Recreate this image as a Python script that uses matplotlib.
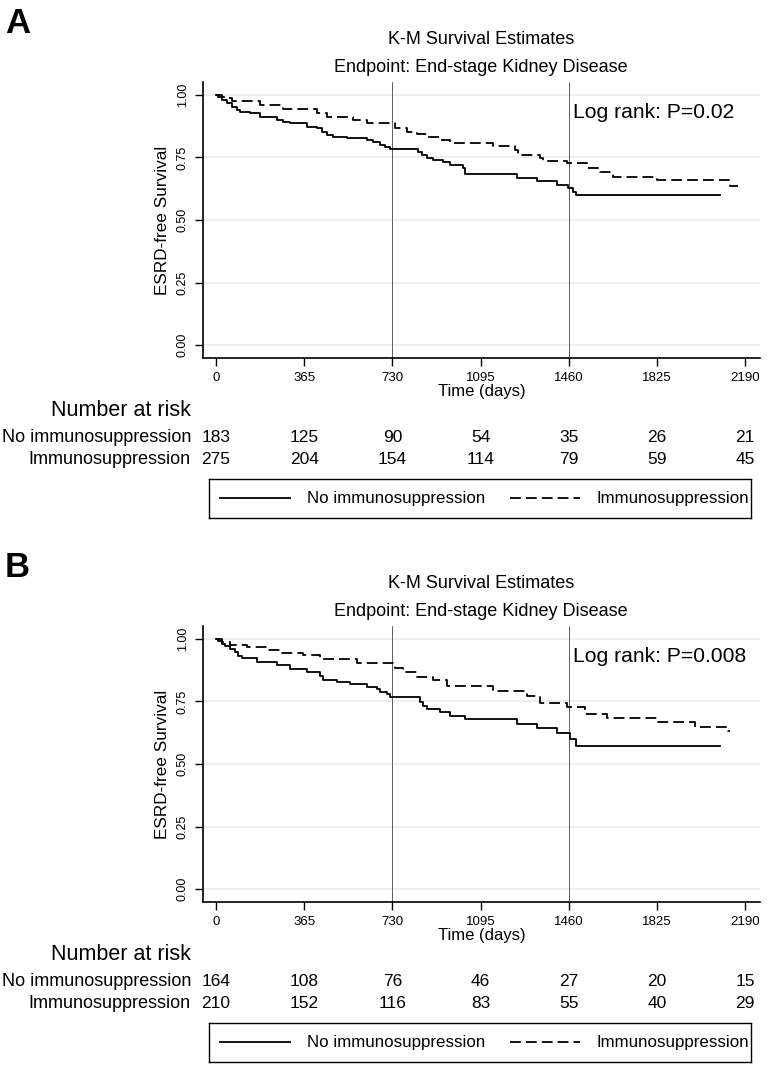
import matplotlib
matplotlib.use("Agg")
import matplotlib.pyplot as plt
import numpy as np

W, H = 780, 1091

# ---- data ----
ticks = [0, 365, 730, 1095, 1460, 1825, 2190]
groups = ["No immunosuppression", "Immunosuppression"]

# panel A, steps: (day, survival after step)
a_no_t = [0, 10, 23, 44, 65, 86, 99, 141, 182, 251, 279, 306, 375, 417, 437, 458, 486, 541,
          624, 651, 679, 700, 720, 837, 851, 872, 899, 941, 969, 1024, 1031, 1245, 1327, 1410,
          1458, 1476, 1490, 2086]
a_no_s = [1.0, 0.99, 0.98, 0.967, 0.953, 0.94, 0.933, 0.927, 0.913, 0.9, 0.893, 0.887, 0.873,
          0.867, 0.853, 0.84, 0.833, 0.827, 0.82, 0.81, 0.8, 0.793, 0.784, 0.773, 0.76, 0.747,
          0.74, 0.733, 0.72, 0.707, 0.684, 0.669, 0.656, 0.64, 0.627, 0.613, 0.6, 0.6]
a_im_t = [0, 23, 44, 65, 182, 279, 417, 458, 568, 624, 741, 789, 831, 872, 927, 969, 1148,
          1238, 1250, 1341, 1355, 1452, 1534, 1589, 1645, 1824, 2127, 2162]
a_im_s = [1.0, 0.993, 0.987, 0.977, 0.96, 0.943, 0.927, 0.913, 0.9, 0.887, 0.867, 0.853,
          0.845, 0.831, 0.82, 0.807, 0.797, 0.78, 0.76, 0.747, 0.736, 0.727, 0.707, 0.693,
          0.673, 0.66, 0.636, 0.636]

# panel B
b_no_t = [0, 10, 23, 36, 58, 79, 92, 106, 168, 251, 306, 375, 430, 444, 500, 555, 624, 665,
          679, 706, 720, 844, 858, 872, 927, 969, 1031, 1245, 1327, 1410, 1465, 1490, 2086]
b_no_s = [1.0, 0.99, 0.98, 0.973, 0.96, 0.947, 0.933, 0.923, 0.909, 0.896, 0.88, 0.867, 0.853,
          0.836, 0.827, 0.82, 0.807, 0.8, 0.787, 0.78, 0.767, 0.747, 0.733, 0.72, 0.707, 0.693,
          0.68, 0.66, 0.643, 0.623, 0.6, 0.573, 0.573]
b_im_t = [0, 23, 58, 127, 210, 265, 361, 430, 582, 741, 775, 831, 899, 955, 1148, 1286, 1341,
          1452, 1527, 1617, 1824, 1983, 2120, 2127]
b_im_s = [1.0, 0.987, 0.976, 0.969, 0.956, 0.943, 0.936, 0.92, 0.903, 0.883, 0.867, 0.849,
          0.836, 0.813, 0.79, 0.773, 0.743, 0.727, 0.7, 0.684, 0.667, 0.647, 0.633, 0.633]

a_risk = [[183, 125, 90, 54, 35, 26, 21], [275, 204, 154, 114, 79, 59, 45]]
b_risk = [[164, 108, 76, 46, 27, 20, 15], [210, 152, 116, 83, 55, 40, 29]]

panels = [
    ("A", a_no_t, a_no_s, a_im_t, a_im_s, a_risk, "Log rank: P=0.02"),
    ("B", b_no_t, b_no_s, b_im_t, b_im_s, b_risk, "Log rank: P=0.008"),
]

SANS = ["Liberation Sans", "DejaVu Sans"]

fig = plt.figure(figsize=(W / 100, H / 100), dpi=100)


def ftxt(x, y, s, **kw):
    # place text in pixel coords of the reference
    fig.text(x / W, 1 - y / H, s, **kw)


DASH = (0, (6, 2.8))

for i, (lab, nt, ns, it, isv, risk, pval) in enumerate(panels):
    off = 544 * i
    left, right, top, bot = 202.7, 760, 81.7 + off, 358.3 + off
    ax = fig.add_axes([left / W, 1 - bot / H, (right - left) / W, (bot - top) / H])
    ax.set_xlim(-55, 2252)
    ax.set_ylim(-0.053, 1.053)

    for y in [0, 0.25, 0.5, 0.75, 1.0]:
        ax.axhline(y, color="#e4eef0", lw=1.2, zorder=0)
    for x in [730, 1460]:
        ax.axvline(x, color="#444444", lw=0.6, zorder=1)

    ax.step(nt, ns, where="post", color="black", lw=1.3, zorder=3)
    ax.step(it, isv, where="post", color="black", lw=1.3, linestyle=DASH, zorder=3)

    for s in ["top", "right"]:
        ax.spines[s].set_visible(False)
    ax.spines["left"].set_linewidth(1.2)
    ax.spines["bottom"].set_linewidth(1.2)

    ax.set_xticks(ticks)
    ax.set_xticklabels([str(t) for t in ticks], fontfamily=SANS, fontsize=9.5)
    ax.set_yticks([0, 0.25, 0.5, 0.75, 1.0])
    ax.set_yticklabels(["0.00", "0.25", "0.50", "0.75", "1.00"], rotation=90,
                       va="center", fontfamily=SANS, fontsize=9)
    ax.tick_params(length=6, width=1.0, color="black", pad=4)
    ax.set_xlabel("Time (days)", fontfamily=SANS, fontsize=12, labelpad=0)
    ax.set_ylabel("ESRD-free Survival", fontfamily=SANS, fontsize=12.3, labelpad=5)

    ftxt(5, 33 + off, lab, fontfamily=SANS, fontweight="bold", fontsize=25, va="baseline")
    ftxt(481, 40 + off, "K-M Survival Estimates", fontfamily=SANS, fontsize=13,
         ha="center", va="center")
    ftxt(481, 67 + off, "Endpoint: End-stage Kidney Disease", fontfamily=SANS, fontsize=13,
         ha="center", va="center")
    ftxt(573, 113 + off, pval, fontfamily=SANS, fontsize=15.2, ha="left", va="center")

    # number at risk table
    ftxt(191, 411 + off, "Number at risk", fontfamily=SANS, fontsize=15.5,
         ha="right", va="center")
    for r, (g, row) in enumerate(zip(groups, risk)):
        yy = 437 + 22 * r + off
        ftxt(191, yy, g, fontfamily=SANS, fontsize=13, ha="right", va="center")
        for t, n in zip(ticks, row):
            xx = 216 + t * 0.2416
            ftxt(xx, yy, str(n), fontfamily=SANS, fontsize=12.5, ha="center", va="center")

    # legend box
    lx0, lx1, ly0, ly1 = 209, 751, 478.5 + off, 518 + off
    bax = fig.add_axes([lx0 / W, 1 - ly1 / H, (lx1 - lx0) / W, (ly1 - ly0) / H])
    bax.set_xlim(lx0, lx1)
    bax.set_ylim(ly1, ly0)
    bax.set_xticks([])
    bax.set_yticks([])
    for s in bax.spines.values():
        s.set_linewidth(1.0)
    ym = (ly0 + ly1) / 2
    bax.plot([220, 290], [ym, ym], color="black", lw=1.3)
    bax.plot([510, 580], [ym, ym], color="black", lw=1.3, linestyle=DASH)
    bax.text(306.7, ym, groups[0], fontfamily=SANS, fontsize=12.2, va="center")
    bax.text(597, ym, groups[1], fontfamily=SANS, fontsize=12.2, va="center")

fig.savefig("out.png", dpi=100)
